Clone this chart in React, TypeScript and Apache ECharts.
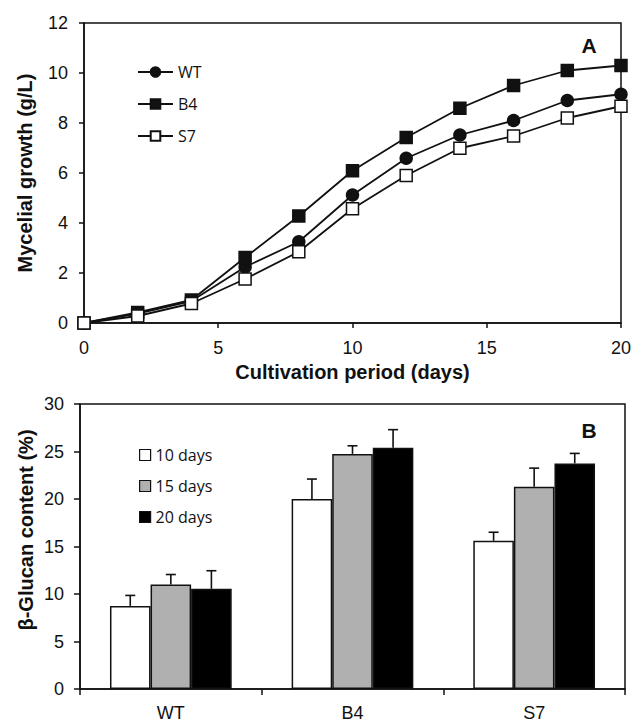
import React, { useEffect, useRef } from "react";
import * as echarts from "echarts";

const days = [0, 2, 4, 6, 8, 10, 12, 14, 16, 18, 20];
const growthWT = [0, 0.38, 0.88, 2.24, 3.25, 5.12, 6.59, 7.52, 8.1, 8.9, 9.15];
const growthB4 = [0, 0.42, 0.92, 2.62, 4.28, 6.09, 7.42, 8.59, 9.5, 10.1, 10.3];
const growthS7 = [0, 0.28, 0.78, 1.76, 2.85, 4.57, 5.9, 6.99, 7.48, 8.2, 8.67];

const strains = ["WT", "B4", "S7"];
const glucan10 = [8.75, 20.0, 15.6];
const glucan15 = [11.0, 24.75, 21.3];
const glucan20 = [10.55, 25.4, 23.75];
const sd10 = [1.1, 2.1, 0.9];
const sd15 = [1.05, 0.85, 1.95];
const sd20 = [1.9, 1.9, 1.05];

const FONT = "'Liberation Sans', Arial, sans-serif";
const LEGEND_FONT = "'Open Sans', sans-serif";
const INK = "#111";

export default function App() {
  const ref = useRef<HTMLDivElement>(null);
  useEffect(() => {
    document.body.style.margin = "0";
    const chart = echarts.init(ref.current!, null, { renderer: "svg" });
    const pair = (ys: number[]) => days.map((d, i) => [d, ys[i]]);
    const barGroups = [
      { name: "10 days", vals: glucan10, sd: sd10, color: "#ffffff" },
      { name: "15 days", vals: glucan15, sd: sd15, color: "#b0b0b0" },
      { name: "20 days", vals: glucan20, sd: sd20, color: "#000000" },
    ];
    const errData: number[][] = [];
    barGroups.forEach((g, k) =>
      g.vals.forEach((v, c) => errData.push([c, v + g.sd[c], v, k]))
    );
    const axisLine = { show: true, lineStyle: { color: INK, width: 1.5 } };
    const axisTick = { show: true, length: 5, lineStyle: { color: INK, width: 1.5 } };
    const lineSeries = (name: string, data: number[], symbol: string, fill: string) => ({
      name,
      type: "line",
      xAxisIndex: 0,
      yAxisIndex: 0,
      data: pair(data),
      symbol,
      symbolSize: 12,
      lineStyle: { color: INK, width: 1.8 },
      itemStyle: { color: fill, borderColor: INK, borderWidth: 1.5 },
      z: fill === "#fff" ? 4 : 3,
    });
    chart.setOption({
      animation: false,
      backgroundColor: "#fff",
      grid: [
        { left: 84, right: 12, top: 23, height: 300, show: true, borderColor: INK, borderWidth: 1.5 },
        { left: 80, right: 9, top: 404, height: 285, show: true, borderColor: INK, borderWidth: 1.5 },
      ],
      legend: [
        {
          data: ["WT", "B4", "S7"],
          orient: "vertical",
          left: 132,
          top: 59,
          itemWidth: 35,
          itemHeight: 12,
          itemGap: 16,
          textStyle: { fontSize: 16, fontFamily: LEGEND_FONT, color: INK },
        },
        {
          data: ["10 days", "15 days", "20 days"],
          orient: "vertical",
          left: 134,
          top: 442,
          icon: "rect",
          itemWidth: 11,
          itemHeight: 11,
          itemGap: 15,
          itemStyle: { borderWidth: 1.2 },
          textStyle: { fontSize: 16, fontFamily: LEGEND_FONT, color: INK },
        },
      ],
      xAxis: [
        {
          type: "value",
          gridIndex: 0,
          min: 0,
          max: 20,
          interval: 5,
          axisLine,
          axisTick,
          splitLine: { show: false },
          axisLabel: { fontSize: 18, fontFamily: FONT, color: INK, margin: 16 },
          name: "Cultivation period (days)",
          nameLocation: "middle",
          nameGap: 39,
          nameTextStyle: { fontSize: 20, fontWeight: "bold", fontFamily: FONT, color: INK },
        },
        {
          type: "category",
          gridIndex: 1,
          data: strains,
          axisLine,
          axisTick: { show: true, length: 6, alignWithLabel: false, lineStyle: { color: INK, width: 1.5 } },
          axisLabel: { fontSize: 18, fontFamily: FONT, color: INK, margin: 15 },
        },
      ],
      yAxis: [
        {
          type: "value",
          gridIndex: 0,
          min: 0,
          max: 12,
          interval: 2,
          axisLine,
          axisTick,
          splitLine: { show: false },
          axisLabel: { fontSize: 18, fontFamily: FONT, color: INK, margin: 16 },
        },
        {
          type: "value",
          gridIndex: 1,
          min: 0,
          max: 30,
          interval: 5,
          axisLine,
          axisTick: { show: true, length: 6, lineStyle: { color: INK, width: 1.5 } },
          splitLine: { show: false },
          axisLabel: { fontSize: 18, fontFamily: FONT, color: INK, margin: 16 },
        },
      ],
      graphic: [
        {
          type: "text",
          x: 25,
          y: 173,
          rotation: Math.PI / 2,
          style: {
            text: "Mycelial growth (g/L)",
            fontSize: 20,
            fontWeight: "bold",
            fontFamily: FONT,
            fill: INK,
            align: "center",
            verticalAlign: "middle",
          },
        },
        {
          type: "text",
          x: 26,
          y: 530,
          rotation: Math.PI / 2,
          style: {
            text: "β-Glucan content (%)",
            fontSize: 20,
            fontWeight: "bold",
            fontFamily: FONT,
            fill: INK,
            align: "center",
            verticalAlign: "middle",
          },
        },
        {
          type: "text",
          x: 589,
          y: 45,
          style: { text: "A", fontSize: 21, fontWeight: "bold", fontFamily: FONT, fill: INK, align: "center", verticalAlign: "middle" },
        },
        {
          type: "text",
          x: 589,
          y: 430,
          style: { text: "B", fontSize: 21, fontWeight: "bold", fontFamily: FONT, fill: INK, align: "center", verticalAlign: "middle" },
        },
      ],
      series: [
        lineSeries("WT", growthWT, "circle", INK),
        lineSeries("B4", growthB4, "rect", INK),
        lineSeries("S7", growthS7, "rect", "#fff"),
        ...barGroups.map((g) => ({
          name: g.name,
          type: "bar",
          xAxisIndex: 1,
          yAxisIndex: 1,
          data: g.vals,
          barGap: "0%",
          barCategoryGap: "33%",
          itemStyle: { color: g.color, borderColor: INK, borderWidth: 1.5 },
        })),
        {
          name: "error",
          type: "custom",
          xAxisIndex: 1,
          yAxisIndex: 1,
          z: 5,
          data: errData,
          encode: { x: 0, y: [1, 2] },
          renderItem: (params: any, api: any) => {
            const cat = api.value(0);
            const top = api.value(1);
            const val = api.value(2);
            const k = api.value(3);
            const base = api.coord([cat, val]);
            const tp = api.coord([cat, top]);
            const bw = (api.size([1, 0])[0] * 0.67) / 3;
            const x = base[0] + (k - 1) * bw;
            const st = { stroke: INK, lineWidth: 1.6 };
            return {
              type: "group",
              children: [
                { type: "line", shape: { x1: x, y1: base[1], x2: x, y2: tp[1] }, style: st },
                { type: "line", shape: { x1: x - 5, y1: tp[1], x2: x + 5, y2: tp[1] }, style: st },
              ],
            };
          },
        },
      ],
    });
    return () => chart.dispose();
  }, []);
  return <div ref={ref} style={{ width: 634, height: 722 }} />;
}
